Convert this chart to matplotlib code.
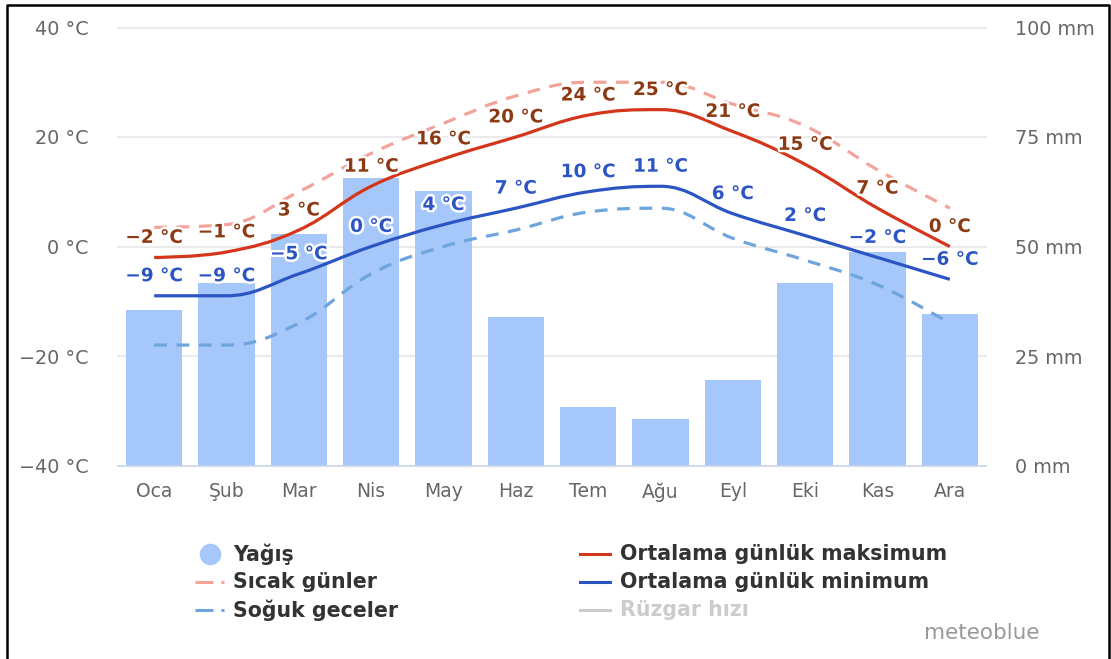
import numpy as np
import matplotlib
matplotlib.use("Agg")
import matplotlib.pyplot as plt
import matplotlib.patheffects as pe
from matplotlib.path import Path
from matplotlib.patches import PathPatch
from matplotlib.lines import Line2D

# data
months = ['Oca', 'Şub', 'Mar', 'Nis', 'May', 'Haz', 'Tem', 'Ağu', 'Eyl', 'Eki', 'Kas', 'Ara']
precip = [35.5, 41.7, 52.9, 65.6, 62.7, 33.9, 13.4, 10.6, 19.5, 41.7, 48.7, 34.6]
t_max = [-2, -1, 3, 11, 16, 20, 24, 25, 21, 15, 7, 0]
t_min = [-9, -9, -5, 0, 4, 7, 10, 11, 6, 2, -2, -6]
hot_days = [3.5, 4, 10, 17, 22.5, 27.5, 30, 30, 26, 22, 14, 7]
cold_nights = [-18, -18, -14, -5, 0, 3, 6.3, 7, 1.5, -2.5, -7, -14]
temp_ticks = [-40, -20, 0, 20, 40]
temp_ticklabels = ['−40 °C', '−20 °C', '0 °C', '20 °C', '40 °C']
mm_ticks = [0, 25, 50, 75, 100]
mm_ticklabels = ['0 mm', '25 mm', '50 mm', '75 mm', '100 mm']

c_bar = '#a6c7fa'
c_max = '#d4361b'
c_min = '#2c55c4'
c_hot = '#f4a39b'
c_cold = '#6ea5de'
c_maxlab = '#8c3a14'
c_minlab = '#2c55c4'
c_tick = '#666666'
c_grid = '#e6e6e6'

W, H = 1111, 659


def spline_path(xs, ys, smoothing=1.5):
    # highcharts style spline: bezier control points around each point
    n = len(xs)
    lc = [None] * n
    rc = [None] * n
    for i in range(1, n - 1):
        x, y = xs[i], ys[i]
        lx, ly = xs[i - 1], ys[i - 1]
        nx, ny = xs[i + 1], ys[i + 1]
        d = smoothing + 1
        lcx, lcy = (smoothing * x + lx) / d, (smoothing * y + ly) / d
        rcx, rcy = (smoothing * x + nx) / d, (smoothing * y + ny) / d
        corr = (rcy - lcy) * (rcx - x) / (rcx - lcx) + y - rcy
        lcy += corr
        rcy += corr
        if lcy > ly and lcy > y:
            lcy = max(ly, y); rcy = 2 * y - lcy
        elif lcy < ly and lcy < y:
            lcy = min(ly, y); rcy = 2 * y - lcy
        if rcy > ny and rcy > y:
            rcy = max(ny, y); lcy = 2 * y - rcy
        elif rcy < ny and rcy < y:
            rcy = min(ny, y); lcy = 2 * y - rcy
        lc[i] = (lcx, lcy)
        rc[i] = (rcx, rcy)
    verts = [(xs[0], ys[0])]
    codes = [Path.MOVETO]
    for i in range(1, n):
        verts += [rc[i - 1] or (xs[i - 1], ys[i - 1]), lc[i] or (xs[i], ys[i]), (xs[i], ys[i])]
        codes += [Path.CURVE4] * 3
    return Path(verts, codes)


fig = plt.figure(figsize=(W / 100, H / 100), dpi=100)
ax = fig.add_axes([118 / W, 1 - 465.5 / H, (986 - 118) / W, (465.5 - 27.5) / H])
x = np.arange(len(months))

# precipitation bars (right axis scale)
ax.bar(x, precip, width=0.78, color=c_bar, zorder=2)
ax.set_xlim(-0.5, len(months) - 0.5)
ax.set_ylim(0, 100)
ax.set_axisbelow(True)
for s in ['top', 'left', 'right']:
    ax.spines[s].set_visible(False)
ax.spines['bottom'].set_color('#ccd6eb')
ax.spines['bottom'].set_linewidth(1.2)
ax.set_xticks(x)
ax.set_xticklabels(months)
ax.tick_params(axis='x', length=0, pad=12, labelsize=13.5, labelcolor=c_tick)

# temperatures (left axis)
ax2 = ax.twinx()
ax2.set_ylim(-40, 40)
ax2.set_yticks(temp_ticks)
ax2.set_yticklabels(temp_ticklabels)
ax2.yaxis.tick_left()
ax2.tick_params(axis='y', length=0, pad=21, labelsize=13.8, labelcolor=c_tick)
for s in ax2.spines.values():
    s.set_visible(False)

# mm ticks on the right, after twinx
ax.set_yticks(mm_ticks)
ax.set_yticklabels(mm_ticklabels)
ax.yaxis.tick_right()
ax.tick_params(axis='y', length=0, pad=21, labelsize=13.8, labelcolor=c_tick)
ax.yaxis.grid(True, color=c_grid, lw=1.2)
for gl in ax.get_ygridlines():
    gl.set_clip_on(False)

series = [
    (hot_days, c_hot, (4, 3)),
    (cold_nights, c_cold, (4, 3)),
    (t_max, c_max, None),
    (t_min, c_min, None),
]
for vals, col, dash in series:
    p = PathPatch(spline_path(list(x), vals), fill=False, edgecolor=col, lw=2.3,
                  transform=ax2.transData, capstyle='butt', zorder=3)
    if dash:
        p.set_linestyle((0, dash))
    ax2.add_patch(p)

halo = [pe.withStroke(linewidth=3.5, foreground='white')]
for vals, col in [(t_max, c_maxlab), (t_min, c_minlab)]:
    for xi, v in zip(x, vals):
        lab = f'{v} °C'.replace('-', '−')
        ax2.annotate(lab, (xi, v), xytext=(0, 10.5), textcoords='offset points',
                     ha='center', va='baseline', fontsize=13.3, fontweight='bold',
                     color=col, path_effects=halo, zorder=5)

# legend drawn by hand
rows = [554, 582, 610]
leg_fs = 14.8


def fx(px):
    return px / W


def fy(py):
    return 1 - py / H


fig.add_artist(Line2D([fx(210)], [fy(rows[0])], marker='o', markersize=14.5,
                      color=c_bar, transform=fig.transFigure))
for r, col in [(rows[1], c_hot), (rows[2], c_cold)]:
    fig.add_artist(Line2D([fx(195), fx(224)], [fy(r), fy(r)], color=col, lw=2.2,
                          linestyle=(0, (5.9, 2.6)), dash_capstyle='butt',
                          transform=fig.transFigure))
for r, col in [(rows[0], c_max), (rows[1], c_min), (rows[2], '#cccccc')]:
    fig.add_artist(Line2D([fx(580), fx(610)], [fy(r), fy(r)], color=col, lw=2.2,
                          transform=fig.transFigure))
left_labels = ['Yağış', 'Sıcak günler', 'Soğuk geceler']
right_labels = ['Ortalama günlük maksimum', 'Ortalama günlük minimum', 'Rüzgar hızı']
for r, t in zip(rows, left_labels):
    fig.text(fx(233), fy(r), t, fontsize=leg_fs, fontweight='bold', color='#333333',
             ha='left', va='center')
for r, t in zip(rows, right_labels):
    fig.text(fx(620), fy(r), t, fontsize=leg_fs, fontweight='bold',
             color='#cccccc' if t == 'Rüzgar hızı' else '#333333', ha='left', va='center')

fig.text(fx(1040), fy(633), 'meteoblue', fontsize=15.5, color='#999999',
         ha='right', va='center')

# black frame on left, top and right
fig.add_artist(Line2D([fx(7), fx(7), fx(1109), fx(1109)], [0, fy(5), fy(5), 0],
                      color='black', lw=1.8, transform=fig.transFigure))

fig.savefig('out.png', dpi=100)
